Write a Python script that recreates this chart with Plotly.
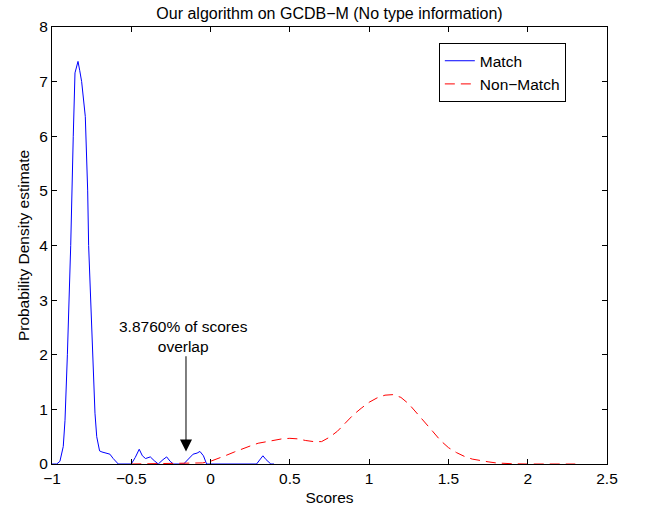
import plotly.graph_objects as go

# Match (blue) kernel density estimate
match_x = [-1.0, -0.97, -0.95, -0.929, -0.918, -0.912, -0.903, -0.882, -0.876, -0.866,
           -0.855, -0.845, -0.836, -0.825, -0.813, -0.79, -0.775, -0.769, -0.744, -0.735,
           -0.729, -0.718, -0.70, -0.685, -0.666, -0.635, -0.614, -0.595, -0.582,
           -0.50, -0.475, -0.45, -0.43, -0.41, -0.38, -0.355, -0.33, -0.30, -0.277,
           -0.255, -0.235, -0.17, -0.14, -0.11, -0.085, -0.067, -0.045, -0.025,
           0.29, 0.31, 0.33, 0.35, 0.38, 0.40]
match_y = [0.0, 0.0, 0.05, 0.32, 0.8, 1.2, 2.0, 4.0, 5.0, 6.0,
           7.16, 7.3, 7.37, 7.2, 7.0, 6.36, 5.0, 4.0, 2.0, 1.2,
           0.93, 0.5, 0.24, 0.22, 0.21, 0.18, 0.10, 0.03, 0.0,
           0.0, 0.12, 0.27, 0.15, 0.10, 0.13, 0.06, 0.0, 0.08, 0.13,
           0.05, 0.0, 0.0, 0.10, 0.18, 0.20, 0.23, 0.15, 0.0,
           0.0, 0.08, 0.15, 0.08, 0.0, 0.0]

# Non-Match (red dashed) kernel density estimate
nonmatch_x = [-0.5, -0.1, -0.05, 0.0, 0.05, 0.1, 0.15, 0.2, 0.25, 0.3, 0.35, 0.4, 0.45,
              0.5, 0.55, 0.6, 0.65, 0.7, 0.75, 0.8, 0.85, 0.9, 0.95, 1.0, 1.05, 1.1,
              1.15, 1.2, 1.25, 1.3, 1.35, 1.4, 1.45, 1.5, 1.55, 1.6, 1.65, 1.7, 1.75,
              1.8, 1.85, 1.9, 2.0, 2.3]
nonmatch_y = [0.0, 0.01, 0.02, 0.05, 0.10, 0.16, 0.22, 0.28, 0.33, 0.38, 0.41, 0.44, 0.46,
              0.47, 0.46, 0.43, 0.41, 0.41, 0.49, 0.60, 0.75, 0.90, 1.02, 1.13, 1.21, 1.26,
              1.27, 1.22, 1.10, 0.94, 0.77, 0.60, 0.43, 0.30, 0.21, 0.14, 0.09, 0.06, 0.04,
              0.02, 0.01, 0.005, 0.0, 0.0]

x_ticks = [-1, -0.5, 0, 0.5, 1, 1.5, 2, 2.5]
y_ticks = [0, 1, 2, 3, 4, 5, 6, 7, 8]

FONT = "Liberation Sans, Arial, Helvetica, sans-serif"
FS = 15.5

fig = go.Figure()
fig.add_trace(go.Scatter(x=match_x, y=match_y, mode="lines", name="Match",
                         line=dict(color="#0000ff", width=1)))
fig.add_trace(go.Scatter(x=nonmatch_x, y=nonmatch_y, mode="lines", name="Non\u2212Match",
                         line=dict(color="#ff0000", width=1, dash="10px,6px")))

axis_common = dict(showline=True, linecolor="black", linewidth=1, mirror="ticks",
                   ticks="inside", ticklen=5, tickcolor="black", showgrid=False,
                   zeroline=False, automargin=False,
                   tickfont=dict(size=FS, color="black", family=FONT))

fig.update_layout(
    width=645, height=508,
    margin=dict(l=52, r=38, t=27, b=44),
    paper_bgcolor="white", plot_bgcolor="white",
    font=dict(family=FONT, size=FS, color="black"),
    title=dict(text="Our algorithm on GCDB\u2212M (No type information)",
               x=(52 + 607) / 2 / 645, xanchor="center", y=1 - 13 / 508, yanchor="middle",
               yref="container", font=dict(size=16, color="black")),
    xaxis=dict(range=[-1, 2.5], tickvals=x_ticks,
               ticktext=[str(v).replace("-", "\u2212") for v in x_ticks],
               title=dict(text="Scores", standoff=6, font=dict(size=FS)), **axis_common),
    yaxis=dict(range=[0, 8], tickvals=y_ticks, ticktext=[str(v) for v in y_ticks],
               title=dict(text="Probability Density estimate", standoff=5, font=dict(size=FS)),
               **axis_common),
    legend=dict(x=0.697, y=0.963, xanchor="left", yanchor="top",
                bordercolor="black", borderwidth=1, bgcolor="white",
                entrywidth=125, entrywidthmode="pixels",
                font=dict(size=FS, color="black"), tracegroupgap=0),
    showlegend=True,
)

fig.add_annotation(x=-0.155, y=0.23, ax=-0.155, ay=2.0, axref="x", ayref="y",
                   xref="x", yref="y", text="", showarrow=True, arrowhead=2,
                   arrowsize=2.4, arrowwidth=1, arrowcolor="black")
fig.add_annotation(x=-0.168, y=2.34, xref="x", yref="y",
                   text="3.8760% of scores<br>overlap", showarrow=False,
                   font=dict(size=FS, color="black"), align="center")

fig.write_html("out.html")
